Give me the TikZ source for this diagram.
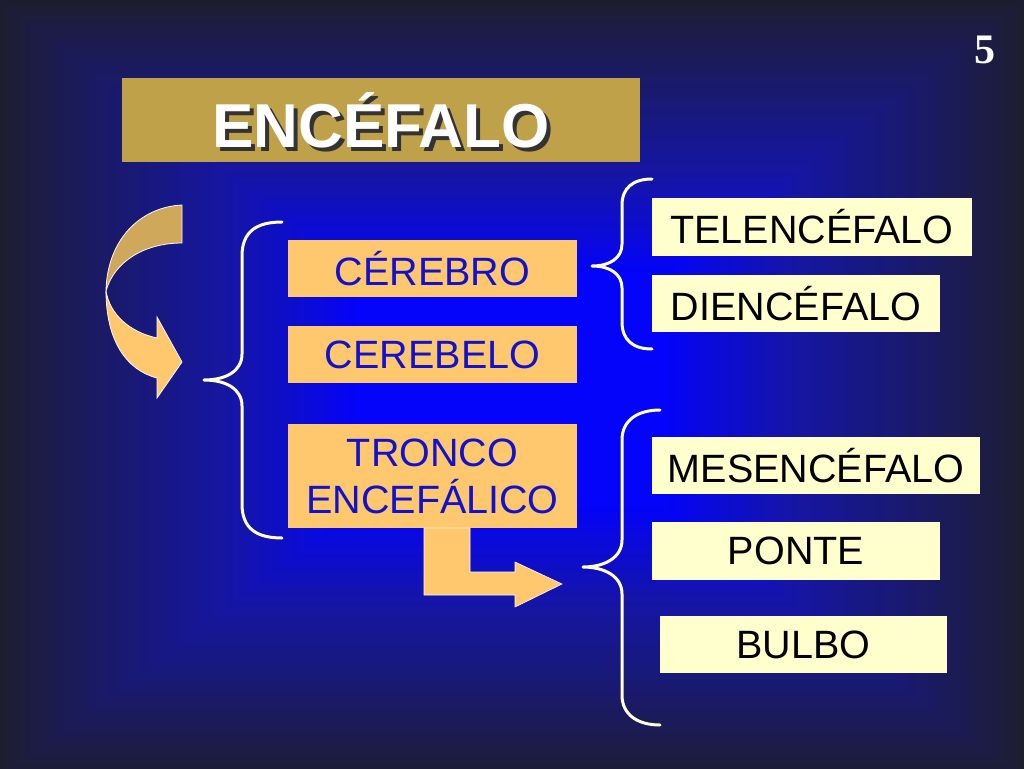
\documentclass[tikz,border=0pt]{standalone}
\usepackage{fontspec}
\setmainfont{Liberation Sans}
\newfontfamily\numfont{Liberation Serif}
\definecolor{bgdark}{RGB}{30,30,44}
\definecolor{titlegold}{RGB}{191,161,74}
\definecolor{boxorange}{RGB}{255,200,110}
\definecolor{boxcream}{RGB}{255,255,206}
\definecolor{txtblue}{RGB}{18,18,205}
\definecolor{arrowback}{RGB}{208,168,92}
\definecolor{bracecol}{RGB}{255,255,214}
\tikzset{
  leftbox/.style={rectangle, fill=boxorange, inner sep=0pt, text=txtblue,
    font=\fontsize{39.5}{47}\selectfont, align=center},
  rightbox/.style={rectangle, fill=boxcream, inner sep=0pt, text=black,
    font=\fontsize{39.5}{47}\selectfont, align=center},
  bracestyle/.style={draw=bracecol, line width=3pt, line cap=round, line join=round},
  ribbon/.style={draw=white!85!boxorange, line width=0.8pt, line join=miter}
}
\begin{document}
\begin{tikzpicture}[x=1pt,y=-1pt]
\useasboundingbox (0,0) rectangle (1024,768);
% rectangular "from centre" gradient background
\fill[bgdark] (0,0) rectangle (1024,768);
\foreach \i in {80,79,...,1}{
  \pgfmathsetmacro\t{\i/80}
  \pgfmathtruncatemacro\bb{\t<=0.3 ? 250 : (\t<=0.55 ? 250-(\t-0.3)/0.25*85 : (\t<=0.75 ? 165-(\t-0.55)/0.2*50 : (\t<=0.92 ? 115-(\t-0.75)/0.17*45 : 70-(\t-0.92)/0.08*26)))}
  \pgfmathtruncatemacro\rr{\t<=0.3 ? 4 : (\t<=0.55 ? 4+(\t-0.3)/0.25*18 : 22+(\t-0.55)/0.45*8)}
  \definecolor{bgstep}{RGB}{\rr,\rr,\bb}
  \pgfmathsetmacro\hw{6.5*\i}
  \pgfmathsetmacro\hh{4.9375*\i}
  \fill[bgstep] ({512-\hw},{390-\hh}) rectangle ({512+\hw},{390+\hh});
}

% page number
\node[text=white, font=\numfont\bfseries\fontsize{42}{46}\selectfont] (pagenum) at (985,50) {5};

% title
\node[rectangle, fill=titlegold, minimum width=518pt, minimum height=84pt, inner sep=0pt] (title) at (381,120) {};
\node[text=black!80, font=\bfseries\fontsize{62}{68}\selectfont] (titleshadow) at (385,124) {ENCÉFALO};
\node[text=white, font=\bfseries\fontsize{62}{68}\selectfont] (titletext) at (381,120) {ENCÉFALO};

% left boxes
\node[leftbox, minimum width=289pt, minimum height=57pt] (cerebro) at (432.5,268.5) {CÉREBRO};
\node[leftbox, minimum width=289pt, minimum height=57pt] (cerebelo) at (432.5,354.5) {CEREBELO};
\node[leftbox, minimum width=289pt, minimum height=104pt] (tronco) at (432.5,476) {TRONCO\\ENCEFÁLICO};

% right boxes
\node[rightbox, minimum width=320pt, minimum height=58pt] (telen) at (812,227) {TELENCÉFALO};
\node[rightbox, minimum width=288pt, minimum height=57pt] (dien) at (796,303.5) {DIENCÉFALO};
\node[rightbox, minimum width=328pt, minimum height=57pt] (mesen) at (816,465.5) {MESENCÉFALO};
\node[rightbox, minimum width=288pt, minimum height=58pt] (ponte) at (796,551) {PONTE};
\node[rightbox, minimum width=287pt, minimum height=57pt] (bulbo) at (803.5,644.5) {BULBO};

% left brace
\draw[bracestyle] (282,222) .. controls (256,222) and (242,232) .. (242,256) -- (242,354)
  .. controls (242,371) and (226,380) .. (204,380)
  .. controls (226,380) and (242,389) .. (242,406) -- (242,504)
  .. controls (242,528) and (256,538) .. (282,538);

% upper right brace
\draw[bracestyle] (652,179) .. controls (633,179) and (622,188) .. (622,205) -- (622,244)
  .. controls (622,258) and (610,266) .. (592,266)
  .. controls (610,266) and (622,274) .. (622,288) -- (622,322)
  .. controls (622,340) and (633,349) .. (652,349);

% lower right brace
\draw[bracestyle] (660,410) .. controls (638,410) and (622,420) .. (622,440) -- (622,540)
  .. controls (622,558) and (604,567) .. (583,567)
  .. controls (604,567) and (622,576) .. (622,594) -- (622,695)
  .. controls (622,715) and (638,725) .. (660,725);

% curved ribbon arrow (left)
\filldraw[ribbon, fill=arrowback] (182,205) .. controls (140,207) and (107,240) .. (106,291)
  .. controls (114,262) and (144,243) .. (182,243) -- cycle;
\filldraw[ribbon, fill=boxorange] (106,291) .. controls (106,340) and (126,370) .. (157,378)
  -- (157,398) -- (182,362) -- (157,317) -- (157,338)
  .. controls (130,332) and (110,315) .. (106,291) -- cycle;

% L-shaped arrow from tronco
\filldraw[fill=boxorange, draw=white!85!boxorange, line width=0.6pt]
  (424,528) -- (470,528) -- (470,572) -- (515,572) -- (515,562) -- (562,584)
  -- (515,607) -- (515,595) -- (424,595) -- cycle;
\end{tikzpicture}
\end{document}
